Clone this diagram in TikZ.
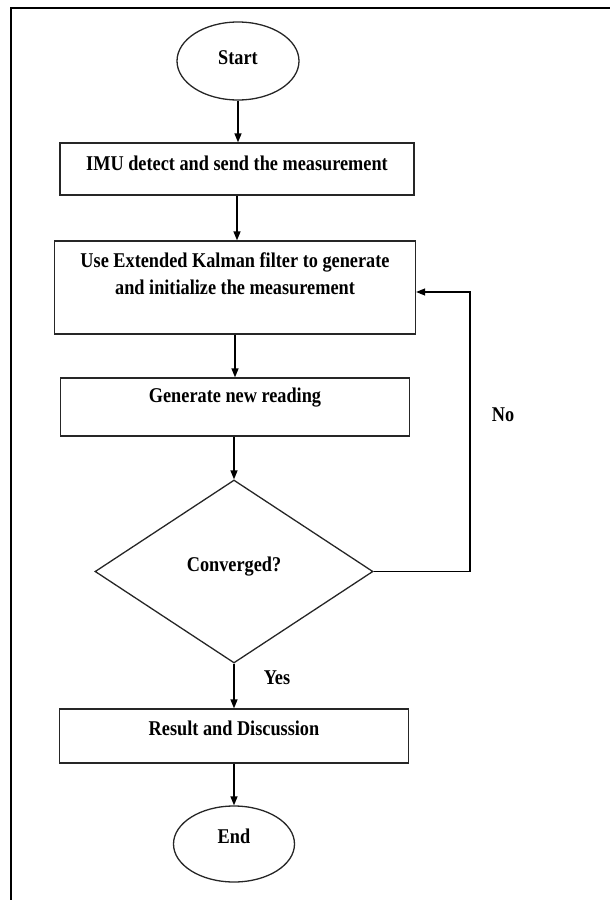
\documentclass[tikz,border=0pt]{standalone}
\usepackage{fontspec}
\setmainfont{Liberation Serif}[FakeStretch=0.87]
\usetikzlibrary{shapes.geometric,arrows.meta}
\begin{document}
\begin{tikzpicture}[x=1pt,y=-1pt,
  box/.style={draw=black!85, line width=1.3pt, inner sep=0pt},
  lbl/.style={font=\bfseries\fontsize{21}{27}\selectfont, align=center, inner sep=0pt},
  arr/.style={-{Triangle[length=9pt,width=7pt]}, line width=1.4pt}]
\useasboundingbox (0,0) rectangle (610,900);
\draw[line width=2.2pt] (11,900) -- (11,8) -- (610,8);
% nodes
\node[box, ellipse, minimum width=122pt, minimum height=78pt] (start) at (238,61) {};
\node[lbl] (tstart) at (238,58) {Start};
\node[box, minimum width=354pt, minimum height=52pt] (imu) at (237,169) {};
\node[lbl] (timu) at (237,163) {IMU detect and send the measurement};
\node[box, minimum width=361pt, minimum height=93pt] (ekf) at (235,287.5) {};
\node[lbl] (tekf) at (235,273.5) {Use Extended Kalman filter to generate\\and initialize the measurement};
\node[box, minimum width=349pt, minimum height=58pt] (gen) at (235,407) {};
\node[lbl] (tgen) at (235,398) {Generate new reading};
\node[box, diamond, minimum width=278pt, minimum height=183pt] (dec) at (234,571.5) {};
\node[lbl] (tdec) at (234,567) {Converged?};
\node[box, minimum width=349pt, minimum height=54pt] (res) at (234,736) {};
\node[lbl] (tres) at (234,728) {Result and Discussion};
\node[box, ellipse, minimum width=121pt, minimum height=76pt] (end) at (234,844) {};
\node[lbl] (tend) at (234,836) {End};
\node[lbl] (no) at (503,415) {No};
\node[lbl] (yes) at (277,678) {Yes};
\coordinate (c2) at (470,292);
% connectors
\draw[arr] (start.south) -- (start.south |- imu.north);
\draw[arr] (imu.south) -- (imu.south |- ekf.north);
\draw[arr] (ekf.south) -- (ekf.south |- gen.north);
\draw[arr] (gen.south -| dec.north) -- (dec.north);
\draw[arr] (dec.south) -- (dec.south |- res.north);
\draw[arr] (res.south -| end.north) -- (end.north);
\draw[arr, line width=1.2pt] (dec.east) -| (c2) -- (c2 -| ekf.east);
\end{tikzpicture}
\end{document}
